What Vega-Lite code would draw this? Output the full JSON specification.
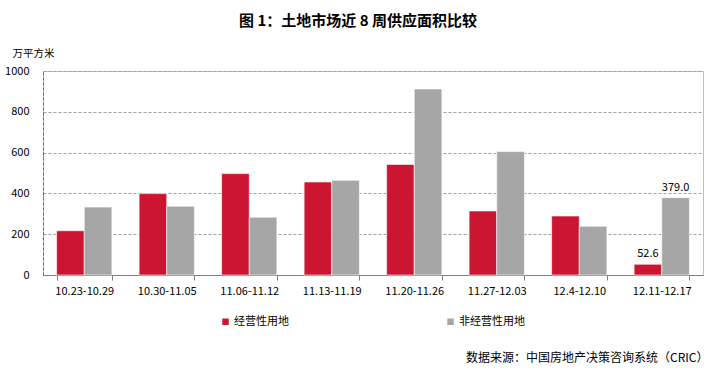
{
  "$schema": "https://vega.github.io/schema/vega-lite/v6.json",
  "width": 660,
  "height": 204,
  "autosize": {"type": "none"},
  "padding": {"left": 43, "top": 71, "right": 10, "bottom": 97},
  "background": "#FFFFFF",
  "title": {
    "text": "图 1：土地市场近 8 周供应面积比较",
    "font": "Noto Sans CJK SC",
    "fontSize": 15,
    "fontWeight": "bold",
    "color": "#000000",
    "anchor": "middle",
    "dx": -15,
    "offset": 19
  },
  "config": {
    "font": "Noto Sans CJK SC",
    "view": {"stroke": "#BFBFBF", "strokeWidth": 1}
  },
  "data": {
    "values": [
      {"week": "10.23-10.29", "type": "经营性用地", "value": 217},
      {"week": "10.23-10.29", "type": "非经营性用地", "value": 333},
      {"week": "10.30-11.05", "type": "经营性用地", "value": 399},
      {"week": "10.30-11.05", "type": "非经营性用地", "value": 337},
      {"week": "11.06-11.12", "type": "经营性用地", "value": 497},
      {"week": "11.06-11.12", "type": "非经营性用地", "value": 283},
      {"week": "11.13-11.19", "type": "经营性用地", "value": 456},
      {"week": "11.13-11.19", "type": "非经营性用地", "value": 464},
      {"week": "11.20-11.26", "type": "经营性用地", "value": 542},
      {"week": "11.20-11.26", "type": "非经营性用地", "value": 912},
      {"week": "11.27-12.03", "type": "经营性用地", "value": 314},
      {"week": "11.27-12.03", "type": "非经营性用地", "value": 605},
      {"week": "12.4-12.10", "type": "经营性用地", "value": 289},
      {"week": "12.4-12.10", "type": "非经营性用地", "value": 239},
      {"week": "12.11-12.17", "type": "经营性用地", "value": 52.6, "label": "52.6"},
      {"week": "12.11-12.17", "type": "非经营性用地", "value": 379.0, "label": "379.0"}
    ]
  },
  "encoding": {
    "x": {
      "field": "week",
      "type": "nominal",
      "sort": null,
      "scale": {"paddingInner": 0.33, "paddingOuter": 0.165},
      "axis": {
        "title": "数据来源：中国房地产决策咨询系统（CRIC）",
        "titleFont": "Noto Sans CJK SC",
        "titleFontSize": 12,
        "titleFontWeight": "normal",
        "titleColor": "#000000",
        "titleAlign": "right",
        "titleAnchor": null,
        "titleBaseline": "middle",
        "titleX": 665,
        "titleY": 82,
        "labelAngle": 0,
        "labelFontSize": 11,
        "labelColor": "#000000",
        "labelPadding": 5,
        "tickBand": "extent",
        "tickSize": 5,
        "tickColor": "#808080",
        "domainColor": "#808080",
        "grid": false
      }
    },
    "xOffset": {"field": "type", "type": "nominal", "sort": ["经营性用地", "非经营性用地"], "scale": {"paddingInner": 0}},
    "y": {
      "field": "value",
      "type": "quantitative",
      "scale": {"domain": [0, 1000], "nice": false},
      "axis": {
        "values": [0, 200, 400, 600, 800, 1000],
        "format": "d",
        "title": "万平方米",
        "titleFont": "Noto Sans CJK SC",
        "titleFontSize": 10.5,
        "titleFontWeight": "normal",
        "titleColor": "#000000",
        "titleAngle": 0,
        "titleAlign": "left",
        "titleBaseline": "middle",
        "titleX": -31,
        "titleY": -18,
        "labelFontSize": 11,
        "labelColor": "#000000",
        "labelPadding": 14,
        "ticks": false,
        "domainColor": "#666666",
        "domainDash": [3, 2],
        "grid": true,
        "gridColor": "#A0A0A0",
        "gridDash": [3, 2],
        "gridWidth": 1
      }
    }
  },
  "layer": [
    {
      "mark": {"type": "bar", "stroke": "#FFFFFF", "strokeWidth": 0.6},
      "encoding": {
        "color": {
          "field": "type",
          "type": "nominal",
          "sort": ["经营性用地", "非经营性用地"],
          "scale": {"domain": ["经营性用地", "非经营性用地"], "range": ["#CC1530", "#A6A6A6"]},
          "legend": {
            "title": null,
            "orient": "none",
            "direction": "horizontal",
            "legendX": 177,
            "legendY": 245,
            "symbolType": "square",
            "symbolSize": 42,
            "symbolStrokeWidth": 0,
            "labelFontSize": 11,
            "labelColor": "#000000",
            "labelOffset": 3,
            "columnPadding": 156
          }
        }
      }
    },
    {
      "transform": [{"filter": "isValid(datum.label)"}],
      "mark": {"type": "text", "baseline": "bottom", "dy": -5, "fontSize": 11, "color": "#000000"},
      "encoding": {"text": {"field": "label", "type": "nominal"}}
    }
  ]
}
